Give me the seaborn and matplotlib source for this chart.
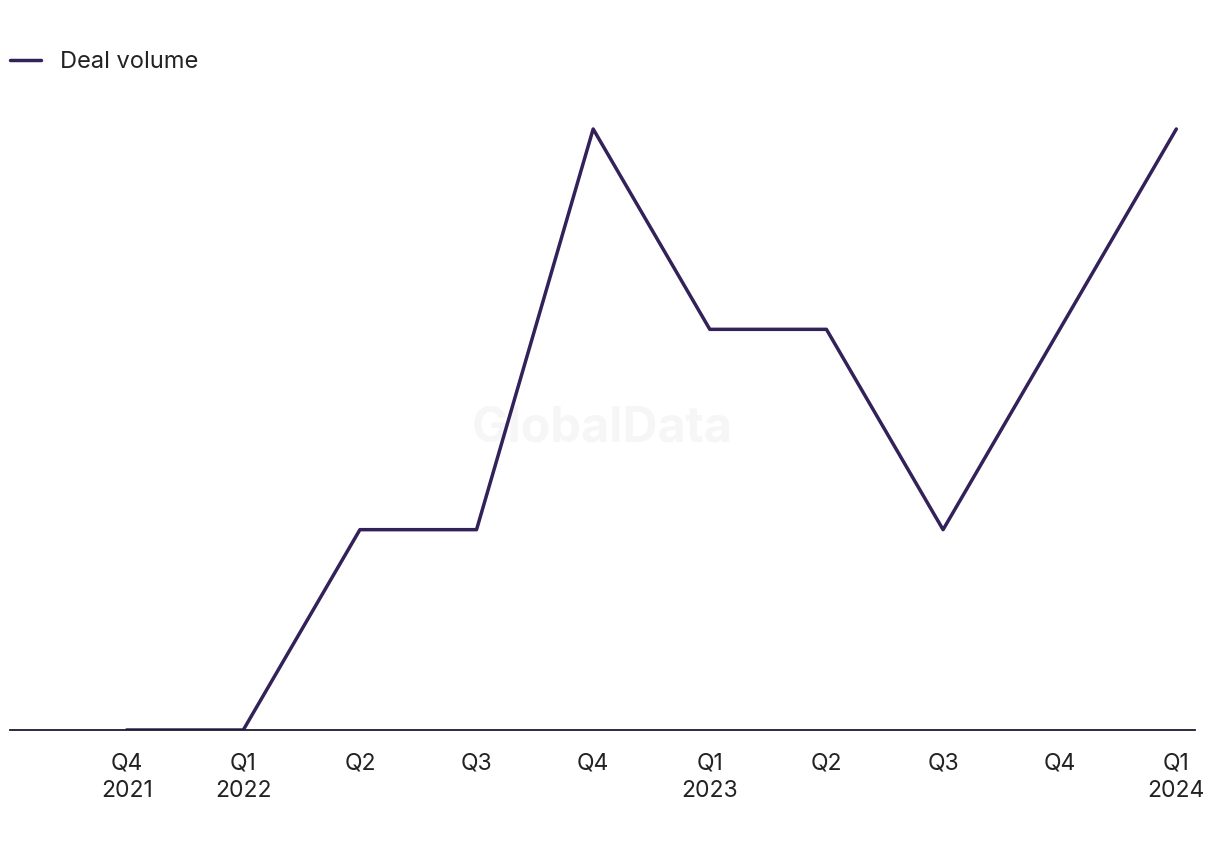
import seaborn as sns
import matplotlib.pyplot as plt
import pandas as pd

# quarterly deal volume
quarters = ['Q4\n2021', 'Q1\n2022', 'Q2', 'Q3', 'Q4', 'Q1\n2023', 'Q2', 'Q3', 'Q4', 'Q1\n2024']
deal_volume = [0, 0, 1, 1, 3, 2, 2, 1, 2, 3]

df = pd.DataFrame({'pos': range(len(quarters)), 'volume': deal_volume})

sns.set_style('white')
plt.rcParams['font.family'] = ['Inter', 'DejaVu Sans']

fig = plt.figure(figsize=(12.2, 8.5), dpi=100)
ax = fig.add_axes([10 / 1220, 120 / 850, 1185 / 1220, 630 / 850])

line_color = '#33215a'
sns.lineplot(data=df, x='pos', y='volume', color=line_color, linewidth=2.5,
             label='Deal volume', ax=ax)

# watermark
ax.text(0.5, 0.479, 'GlobalData', transform=ax.transAxes, ha='center', va='center',
        fontsize=35, fontweight='bold', color='#f6f6f6', zorder=0)

ax.set_xlim(-1.0, 9.16)
ax.set_ylim(0, 3 * 630 / 601)
ax.set_xticks(range(len(quarters)))
ax.set_xticklabels(quarters, fontsize=16.5, color='#222222', linespacing=1.35)
ax.set_yticks([])
ax.set_xlabel('')
ax.set_ylabel('')
ax.tick_params(axis='x', length=0, pad=16)

for s in ['top', 'right', 'left']:
    ax.spines[s].set_visible(False)
ax.spines['bottom'].set_color('#1a1a2e')
ax.spines['bottom'].set_linewidth(1.3)

ax.legend(loc='center left', bbox_to_anchor=(0.0, 668 / 630), frameon=False,
          fontsize=17, handlelength=1.3, handletextpad=0.8, borderaxespad=0,
          borderpad=0, labelcolor='#222222')

fig.savefig('out.png', dpi=100)
